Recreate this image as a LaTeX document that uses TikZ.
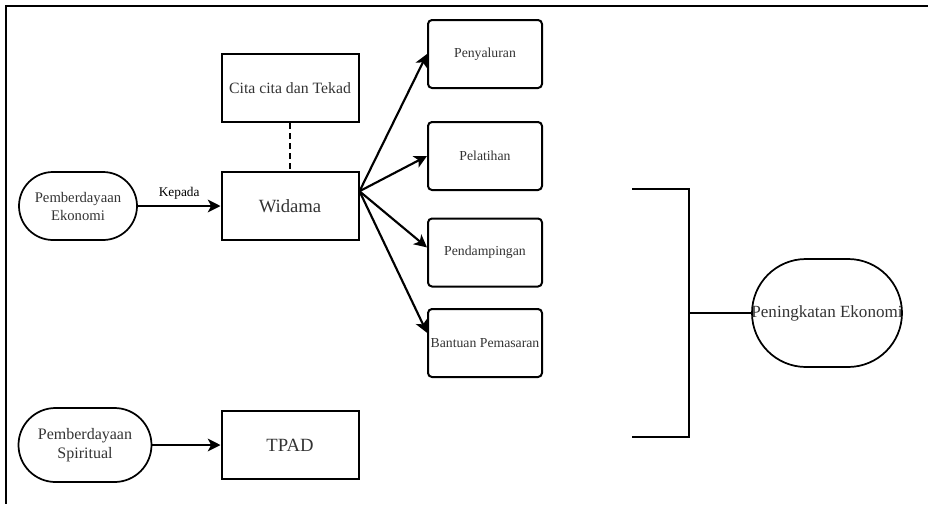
\documentclass[tikz,border=0pt]{standalone}
\usepackage{fontspec}
\setmainfont{Liberation Serif}
\usetikzlibrary{arrows.meta,calc}
\definecolor{txt}{RGB}{51,51,51}
\tikzset{
  sqbox/.style={draw, line width=1.5pt, inner sep=0pt, text=txt},
  rbox/.style={draw, line width=1.5pt, inner sep=0pt, rounded corners=3pt, text=txt,
    minimum width=85.5pt, minimum height=51pt, font=\fontsize{10.3}{12}\selectfont},
  pill/.style={draw, line width=1.3pt, inner sep=0pt, text=txt, align=center},
  arr/.style={line width=1.6pt, -{Stealth[length=9.5pt,width=9.5pt,inset=2.5pt]}},
  plain/.style={line width=1.6pt},
}
\begin{document}
\begin{tikzpicture}[x=0.75pt,y=-0.75pt]
\useasboundingbox (0,0) rectangle (928,504);
% frame (top and left edges)
\coordinate (ftl) at (6,6);
\coordinate (ftr) at (928,6);
\coordinate (fbl) at (6,504);
\draw[line width=2.2pt] (ftr) -- (ftl) -- (fbl);

% left column
\node[pill, minimum width=88.5pt, minimum height=51pt, rounded corners=25.5pt,
  font=\fontsize{11}{13.5}\selectfont] (eko) at (78,206) {Pemberdayaan\\Ekonomi};
\node[sqbox, minimum width=102.75pt, minimum height=51pt, font=\fontsize{14}{16}\selectfont] (wid) at (290,206) {Widama};
\node[sqbox, minimum width=102.75pt, minimum height=51pt, font=\fontsize{11.8}{14}\selectfont] (cita) at (290,88) {Cita cita dan Tekad};
\node[pill, minimum width=99.75pt, minimum height=55.5pt, rounded corners=27.75pt,
  font=\fontsize{12}{14.5}\selectfont] (spi) at (85,445) {Pemberdayaan\\Spiritual};
\node[sqbox, minimum width=102.75pt, minimum height=51pt, font=\fontsize{14}{16}\selectfont] (tpad) at (290,445) {TPAD};

% right boxes
\node[rbox] (peny) at (485,54) {Penyaluran};
\node[rbox] (pel) at (485,156) {Pelatihan};
\node[rbox] (pend) at (485,252.5) {Pendampingan};
\node[rbox] (ban) at (485,343) {Bantuan Pemasaran};

% peningkatan
\node[pill, minimum width=112.5pt, minimum height=81pt, rounded corners=40.5pt,
  font=\fontsize{12.8}{15}\selectfont] (pen) at (827,313) {\makebox[0pt][c]{Peningkatan Ekonomi}};

% connectors
\draw[arr] (eko) -- node[above=1pt, font=\fontsize{10}{12}\selectfont, text=black] (kep) {Kepada} (wid);
\draw[arr] (spi) -- (tpad);
\draw[line width=1.5pt, dash pattern=on 4.5pt off 3pt] (cita) -- (wid);
\draw[arr] (wid.12) -- (peny.west);
\draw[arr] (wid.12) -- (pel.west);
\draw[arr] (wid.12) -- (pend.175);
\draw[arr] (wid.12) -- (ban.170);

% bracket
\coordinate (bt) at (632,189);
\coordinate (btc) at (689,189);
\coordinate (bbc) at (689,437);
\coordinate (bb) at (632,437);
\coordinate (bm) at (689,313);
\draw[plain] (bt) -- (btc) -- (bbc) -- (bb);
\draw[plain] (bm) -- (pen.west);
\end{tikzpicture}
\end{document}
